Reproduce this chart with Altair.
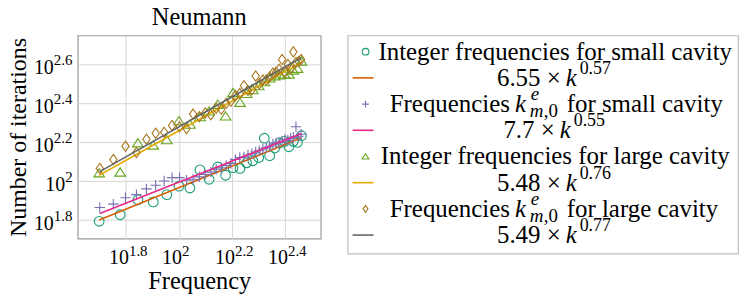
import altair as alt
import pandas as pd

# ---------------- data ----------------
title_text = "Neumann"
x_title = "Frequency"
y_title = "Number of iterations"

x_tick_exps = [1.8, 2.0, 2.2, 2.4]
y_tick_exps = [1.8, 2.0, 2.2, 2.4, 2.6]
x_tick_exp_text = ["1.8", "2", "2.2", "2.4"]
y_tick_exp_text = ["1.8", "2", "2.2", "2.4", "2.6"]
x_domain_exp = [1.618, 2.535]
y_domain_exp = [1.703, 2.749]

# integer frequencies
int_k = [50, 60, 70, 80, 90, 100, 110, 120, 130, 140, 150, 160, 170, 180, 190,
         200, 210, 220, 230, 240, 250, 260, 270, 280, 290]
small_int_iters = [62, 67, 80, 78, 85, 94, 92, 114, 102, 118, 107, 117, 116, 124,
                   127, 132, 166, 135, 148, 157, 160, 150, 160, 158, 171]
large_int_iters = [110, 111, 157, 153, 163, 204, 196, 214, 229, 248, 216, 285, 254,
                   282, 295, 309, 324, 339, 347, 351, 355, 355, 372, 380, 414]

# frequencies k^e_{m,0}
ke_k = [50.27, 56.55, 62.83, 69.12, 75.40, 81.68, 87.96, 94.25, 100.53, 106.81,
        113.10, 119.38, 125.66, 131.95, 138.23, 144.51, 150.80, 157.08, 163.36,
        169.65, 175.93, 182.21, 188.50, 194.78, 201.06, 207.35, 213.63, 219.91,
        226.19, 232.48, 238.76, 245.04, 251.33, 257.61, 263.89, 270.18, 276.46,
        282.74, 289.03]
small_ke_iters = [73, 76, 82, 85, 91, 95, 100, 104, 104, 101, 102, 105, 108, 111,
                  115, 117, 120, 123, 129, 132, 133, 136, 138, 141, 143, 146, 148,
                  151, 155, 157, 158, 160, 164, 162, 166, 168, 190, 170, 174]
large_ke_iters = [116, 129, 151, 140, 164, 176, 178, 193, 190, 186, 221, 214, 224,
                  219, 237, 234, 251, 257, 275, 282, 309, 292, 295, 347, 316, 331,
                  331, 343, 359, 363, 376, 422, 363, 398, 380, 462, 407, 412, 422]

# fitted power laws (end points)
fit_small_int_k = [50, 290]
fit_small_int_y = [63.0, 166.7]
fit_small_ke_k = [50.27, 289.03]
fit_small_ke_y = [68.0, 175.0]
fit_large_int_k = [50, 290]
fit_large_int_y = [107.0, 408.0]
fit_large_ke_k = [50.27, 289.03]
fit_large_ke_y = [111.7, 431.0]

# legend texts
legend_plain_rows = [0, 4]
legend_plain_text = ["Integer frequencies for small cavity",
                     "Integer frequencies for large cavity"]
legend_fit_rows = [1, 3, 5, 7]
legend_fit_coef = ["6.55", "7.7", "5.48", "5.49"]
legend_fit_exp = ["0.57", "0.55", "0.76", "0.77"]
legend_freq_rows = [2, 6]
legend_freq_tail = ["for small cavity", "for large cavity"]

# ---------------- styles ----------------
FONT = "Liberation Serif"
C_CIRC, C_ORANGE = "#1b9e77", "#d95f02"
C_PLUS, C_PINK = "#7570b3", "#e7298a"
C_TRI, C_YELLOW = "#66a61e", "#e6ab02"
C_DIAM, C_GRAY = "#a6761d", "#666666"

PLUS = "M-1,0L1,0M0,-1L0,1"
TRI = "M0,-0.8L1,0.75L-1,0.75Z"
DIAM = "M0,-1L0.72,0L0,1L-0.72,0Z"

W, H = 244, 204
BASE_FS, EXP_FS = 20, 15

xscale = alt.Scale(type="log", domain=[10 ** x_domain_exp[0], 10 ** x_domain_exp[1]], nice=False)
yscale = alt.Scale(type="log", domain=[10 ** y_domain_exp[0], 10 ** y_domain_exp[1]], nice=False)

x_axis = alt.Axis(values=[10 ** e for e in x_tick_exps], labels=False,
                  title=x_title, grid=True, ticks=False, domain=False,
                  titleFont=FONT, titleFontSize=24.5, titleFontWeight="normal",
                  titleColor="black", titlePadding=31, gridColor="#d6d6d6")
y_axis = alt.Axis(values=[10 ** e for e in y_tick_exps], labels=False,
                  title=y_title, grid=True, ticks=False, domain=False,
                  titleFont=FONT, titleFontSize=24, titleFontWeight="normal",
                  titleColor="black", titlePadding=47, gridColor="#d6d6d6")


def pts(k, it, shape, color, size):
    df = pd.DataFrame({"k": k, "it": it})
    return alt.Chart(df).mark_point(shape=shape, color=color, size=size, filled=False,
                                    strokeWidth=1.1, opacity=1).encode(
        x=alt.X("k:Q", scale=xscale, axis=x_axis),
        y=alt.Y("it:Q", scale=yscale, axis=y_axis))


def fit(k, it, color):
    df = pd.DataFrame({"k": k, "it": it})
    return alt.Chart(df).mark_line(color=color, strokeWidth=1.6).encode(
        x=alt.X("k:Q", scale=xscale, axis=x_axis),
        y=alt.Y("it:Q", scale=yscale, axis=y_axis))


# tick labels of the form 10^e, drawn as text through the scales
xt_df = pd.DataFrame({"v": [10 ** e for e in x_tick_exps], "e": x_tick_exp_text})
yt_df = pd.DataFrame({"v": [10 ** e for e in y_tick_exps], "e": y_tick_exp_text})

tick_txt = dict(font=FONT, color="black", baseline="alphabetic")
x_base = alt.Chart(xt_df).mark_text(align="right", fontSize=BASE_FS, dx=3, **tick_txt).encode(
    x=alt.X("v:Q", scale=xscale, axis=x_axis), y=alt.value(H + 25), text=alt.value("10"))
x_exp = alt.Chart(xt_df).mark_text(align="left", fontSize=EXP_FS, dx=3, **tick_txt).encode(
    x=alt.X("v:Q", scale=xscale, axis=x_axis), y=alt.value(H + 17), text="e:N")

y_layers = []
for cond, split in [("length(datum.e) > 1", -24), ("length(datum.e) == 1", -12.5)]:
    y_layers.append(alt.Chart(yt_df).transform_filter(cond).mark_text(
        align="right", fontSize=BASE_FS, dy=10, **tick_txt).encode(
        x=alt.value(split), y=alt.Y("v:Q", scale=yscale, axis=y_axis), text=alt.value("10")))
    y_layers.append(alt.Chart(yt_df).transform_filter(cond).mark_text(
        align="left", fontSize=EXP_FS, dy=1, **tick_txt).encode(
        x=alt.value(split), y=alt.Y("v:Q", scale=yscale, axis=y_axis), text="e:N"))

plot = alt.layer(
    pts(int_k, small_int_iters, "circle", C_CIRC, 95),
    fit(fit_small_int_k, fit_small_int_y, C_ORANGE),
    pts(ke_k, small_ke_iters, PLUS, C_PLUS, 110),
    fit(fit_small_ke_k, fit_small_ke_y, C_PINK),
    pts(int_k, large_int_iters, TRI, C_TRI, 115),
    fit(fit_large_int_k, fit_large_int_y, C_YELLOW),
    pts(ke_k, large_ke_iters, DIAM, C_DIAM, 105),
    fit(fit_large_ke_k, fit_large_ke_y, C_GRAY),
    x_base, x_exp, *y_layers,
).properties(
    width=W, height=H,
    title=alt.TitleParams(title_text, font=FONT, fontSize=24.5, fontWeight="normal",
                          color="black", offset=5, anchor="middle"),
    view=alt.ViewBackground(stroke="#9a9a9a", strokeWidth=1.2),
)

# ---------------- legend panel ----------------
sym_df = pd.DataFrame({"idx": [0, 2, 4, 6], "shape": ["circle", PLUS, TRI, DIAM],
                       "color": [C_CIRC, C_PLUS, C_TRI, C_DIAM]})
line_df = pd.DataFrame({"idx": [1, 3, 5, 7], "color": [C_ORANGE, C_PINK, C_YELLOW, C_GRAY]})
plain_df = pd.DataFrame({"idx": legend_plain_rows, "t": legend_plain_text})
fit_df = pd.DataFrame({"idx": legend_fit_rows, "coef": legend_fit_coef, "ex": legend_fit_exp})
freq_df = pd.DataFrame({"idx": legend_freq_rows, "tail": legend_freq_tail})

ly = alt.Scale(domain=[-0.62, 7.707], reverse=True, nice=False, zero=False)
LY = alt.Y("idx:Q", scale=ly, axis=None)
LFS, LSUB = 25, 19
ltxt = dict(font=FONT, color="black", baseline="middle")

leg_syms = alt.Chart(sym_df).mark_point(filled=False, size=45, strokeWidth=1.1, opacity=1).encode(
    x=alt.value(18), y=LY,
    shape=alt.Shape("shape:N", scale=None),
    color=alt.Color("color:N", scale=None),
)
leg_lines = alt.Chart(line_df).mark_rule(strokeWidth=1.6).encode(
    x=alt.value(5), x2=alt.value(26), y=LY,
    color=alt.Color("color:N", scale=None),
)
leg_plain = alt.Chart(plain_df).mark_text(align="center", fontSize=LFS, **ltxt).encode(
    x=alt.value(208.5), y=LY, text="t:N")

fit_base = alt.Chart(fit_df).transform_calculate(
    kx="219 + (length(datum.coef) - 4) * 6",
    coeft="datum.coef + ' ×'",
    cx="datum.kx - 5",
    ex_x="datum.kx + 14",
)
leg_coef = fit_base.mark_text(align="right", fontSize=LFS, **ltxt).encode(
    x=alt.X("cx:Q", scale=None), y=LY, text="coeft:N")
leg_k = fit_base.mark_text(align="left", fontSize=LFS, fontStyle="italic", **ltxt).encode(
    x=alt.X("kx:Q", scale=None), y=LY, text=alt.value("k"))
leg_ex = fit_base.mark_text(align="left", fontSize=LSUB - 1, dy=-9, **ltxt).encode(
    x=alt.X("ex_x:Q", scale=None), y=LY, text="ex:N")

leg_freq = alt.Chart(freq_df).mark_text(align="right", fontSize=LFS, **ltxt).encode(
    x=alt.value(163), y=LY, text=alt.value("Frequencies"))
leg_fk = alt.Chart(freq_df).mark_text(align="left", fontSize=LFS, fontStyle="italic", **ltxt).encode(
    x=alt.value(168), y=LY, text=alt.value("k"))
leg_fe = alt.Chart(freq_df).mark_text(align="left", fontSize=LSUB, fontStyle="italic", dy=-10, **ltxt).encode(
    x=alt.value(184), y=LY, text=alt.value("e"))
leg_fm = alt.Chart(freq_df).mark_text(align="left", fontSize=LSUB, fontStyle="italic", dy=7, **ltxt).encode(
    x=alt.value(183), y=LY, text=alt.value("m"))
leg_fs = alt.Chart(freq_df).mark_text(align="left", fontSize=LSUB, dy=7, **ltxt).encode(
    x=alt.value(197), y=LY, text=alt.value(",0"))
leg_tail = alt.Chart(freq_df).mark_text(align="left", fontSize=LFS, **ltxt).encode(
    x=alt.value(220), y=LY, text="tail:N")

legend_panel = alt.layer(
    leg_syms, leg_lines, leg_plain, leg_coef, leg_k, leg_ex,
    leg_freq, leg_fk, leg_fe, leg_fm, leg_fs, leg_tail,
).properties(
    width=392, height=219,
    view=alt.ViewBackground(stroke="#bdbdbd", strokeWidth=1.2),
)

chart = alt.hconcat(plot, legend_panel, spacing=25).configure(
    background="white", padding={"left": -2, "top": -5, "right": 0, "bottom": 0}
)

chart.save("out.html", embed_options={"renderer": "svg", "actions": False})
